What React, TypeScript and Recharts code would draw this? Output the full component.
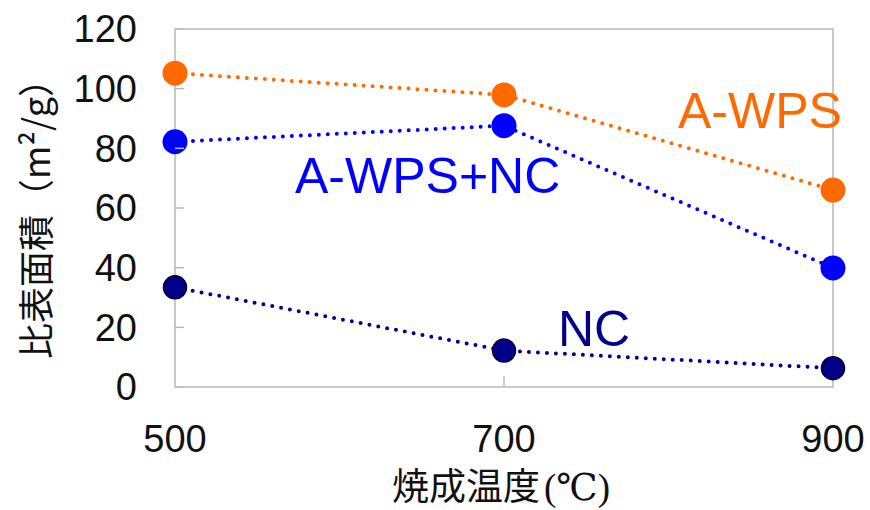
import { LineChart, Line, XAxis, YAxis, ReferenceArea } from "recharts";

const temps = [500, 700, 900];
const awps = [105.2, 97.9, 66.0];
const awpsNc = [82.2, 87.6, 39.9];
const nc = [33.4, 12.2, 6.3];
const xTicks = [500, 700, 900];
const yTicks = [0, 20, 40, 60, 80, 100, 120];

const data = temps.map((t, i) => ({ temp: t, awps: awps[i], awpsNc: awpsNc[i], nc: nc[i] }));

const ORANGE = "#FF6A00";
const BLUE = "#0000FF";
const NAVY = "#00008B";
const GRID = "#b8b8b8";
const NUM_FONT = "'Liberation Sans', Arial, sans-serif";
const CJK_FONT = "'Noto Sans CJK JP', 'Noto Sans', sans-serif";

const X_MARGIN = 38;
const Y_MARGIN = 38;

function XTick(props: any) {
  const { x, y, payload } = props;
  const axisY = y - X_MARGIN;
  const inner = payload.value !== 500 && payload.value !== 900;
  return (
    <g>
      {inner && <line x1={x} x2={x} y1={axisY} y2={axisY - 11} stroke={GRID} strokeWidth={1.5} />}
      <text x={x} y={y} dy="0.71em" textAnchor="middle" fontSize={38} fontFamily={NUM_FONT} fill="#111">
        {payload.value}
      </text>
    </g>
  );
}

function YTick(props: any) {
  const { x, y, payload } = props;
  const axisX = x + Y_MARGIN;
  return (
    <g>
      <line x1={axisX} x2={axisX + 9} y1={y} y2={y} stroke={GRID} strokeWidth={1.5} />
      <text x={x} y={y} dy="0.355em" textAnchor="end" fontSize={38} fontFamily={NUM_FONT} fill="#111">
        {payload.value}
      </text>
    </g>
  );
}

const lineDash = { strokeWidth: 4, strokeDasharray: "0 9", strokeLinecap: "round" as const };

export default function App() {
  return (
    <div style={{ position: "absolute", left: 0, top: 0, width: 870, height: 510, background: "#fff" }}>
      <LineChart width={870} height={510} data={data} margin={{ top: 29, right: 37, bottom: 0, left: 0 }}>
        <ReferenceArea x1={500} x2={900} y1={0} y2={120} fill="none" stroke={GRID} strokeWidth={1.5} />
        <XAxis
          type="number"
          dataKey="temp"
          domain={[500, 900]}
          ticks={xTicks}
          height={123}
          axisLine={false}
          tickLine={false}
          tickSize={0}
          tickMargin={X_MARGIN}
          tick={<XTick />}
          interval={0}
        />
        <YAxis
          type="number"
          domain={[0, 120]}
          ticks={yTicks}
          width={175}
          axisLine={false}
          tickLine={false}
          tickSize={0}
          tickMargin={Y_MARGIN}
          tick={<YTick />}
          interval={0}
        />
        <Line
          dataKey="awps"
          stroke={ORANGE}
          {...lineDash}
          isAnimationActive={false}
          dot={{ r: 12.5, fill: ORANGE, stroke: "none", strokeDasharray: "none" }}
        />
        <Line
          dataKey="awpsNc"
          stroke={BLUE}
          {...lineDash}
          isAnimationActive={false}
          dot={{ r: 12.5, fill: BLUE, stroke: "none", strokeDasharray: "none" }}
        />
        <Line
          dataKey="nc"
          stroke={NAVY}
          {...lineDash}
          isAnimationActive={false}
          dot={{ r: 11.5, fill: NAVY, stroke: "#000022", strokeWidth: 1.5, strokeDasharray: "none" }}
        />
      </LineChart>
      <svg width={870} height={510} style={{ position: "absolute", left: 0, top: 0, pointerEvents: "none" }}>
        <text x={678} y={128} fontSize={50} fontFamily={NUM_FONT} fill={ORANGE}>A-WPS</text>
        <text x={295} y={193} fontSize={50} fontFamily={NUM_FONT} fill={BLUE}>A-WPS+NC</text>
        <text x={558} y={346} fontSize={50} fontFamily={NUM_FONT} fill={NAVY}>NC</text>
        <text
          x={34}
          y={210}
          transform="rotate(-90, 34, 210)"
          textAnchor="middle"
          dominantBaseline="central"
          fontSize={36}
          fontFamily={CJK_FONT}
          fill="#111"
        >
          比表面積（m²/g）
        </text>
        <text x={501} y={500} textAnchor="middle" fontSize={37} fontFamily={CJK_FONT} fill="#111">
          焼成温度<tspan fontFamily="'Liberation Serif', 'DejaVu Serif', serif" dx={4}>(℃)</tspan>
        </text>
      </svg>
    </div>
  );
}
